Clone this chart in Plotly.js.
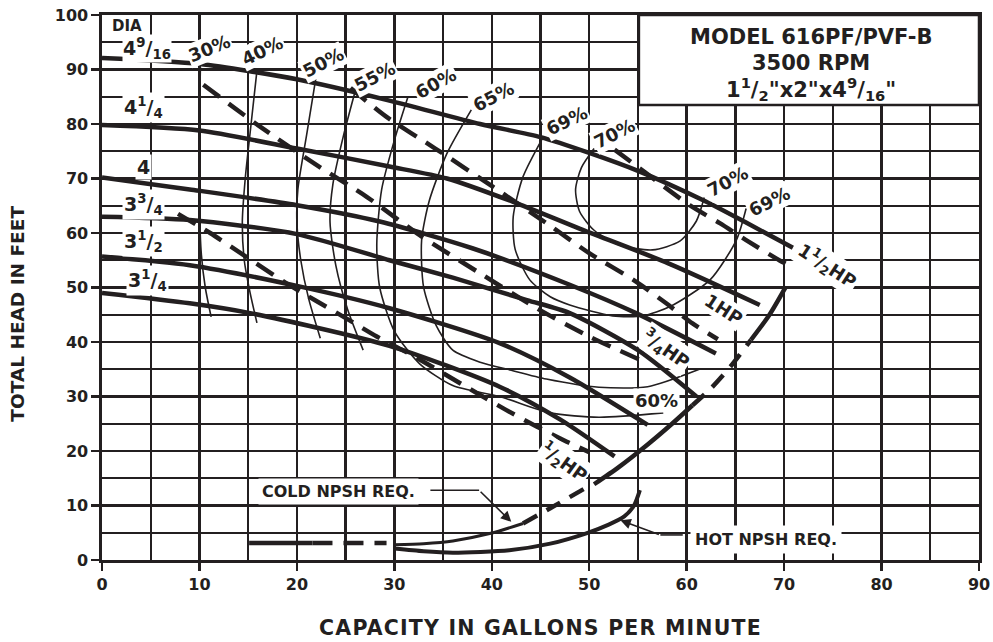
<!DOCTYPE html>
<html><head><meta charset="utf-8">
<script src="https://cdn.plot.ly/plotly-3.0.1.min.js"></script>
<style>html,body{margin:0;padding:0;background:#fff}
.xtitle{letter-spacing:1.2px}</style>
</head><body>
<div id="chart" style="width:993px;height:642px"></div>
<script>
// ---------- DATA ----------
// Axis ticks
const xTickVals = [0,10,20,30,40,50,60,70,80,90];
const yTickVals = [0,10,20,30,40,50,60,70,80,90,100];

// Head-capacity curves by impeller diameter (GPM, ft)
const dia4916Q = [0,10,20,29.5,38.8,45,50,55,61.7,66,70.9];
const dia4916H = [92.1,91,88.2,84.3,80,77.6,74.7,71.4,66,62,57.3];
const dia414Q  = [0,10,20,29.5,35.4,42.2,49,58.3,67.5];
const dia414H  = [79.8,78.8,75.5,72.2,70,65.7,60.8,54.3,46.8];
const dia4Q    = [0,9,20,28.5,38,48,54.8,63];
const dia4H    = [70.2,68,65.1,62.1,57.2,50.5,45.3,37.9];
const dia334Q  = [0,9,20,29.5,36,43.6,48,55,61];
const dia334H  = [63,62.4,59.8,55,51.8,47.7,45.3,38.5,30];
const dia312Q  = [0,9,20,29.5,40.8,48,56];
const dia312H  = [55.7,54.1,50.3,46.2,39.8,33.5,24.8];
const dia314Q  = [0,9,15.2,29.5,40.8,47,52.6];
const dia314H  = [49,47.1,45.3,39.3,31.8,25.8,19];

// Horsepower lines (dashed)
const hpHalfQ = [7.8,11.1,18.9,25.1,28.2,32.1,38.5,41.5,44.6,47.7,50];
const hpHalfH = [63.5,60,50.8,44.3,41,37.3,30.6,27.5,24.5,21.7,19.8];
const hp34Q   = [10.4,16,22,27.2,32.6,38.8,44.6,50,55.5];
const hp34H   = [87.2,79.8,72.5,66.6,59.6,52.6,46.2,41,36.5];
const hp1Q    = [25.5,29.2,34.2,40.1,46.1,50,54.8,57.9,60.6,63.2];
const hp1H    = [86.6,81.3,75.5,68.5,61.2,56.3,51.1,47.1,43.4,40.5];
const hp112Q  = [52.6,55.9,60.3,63.4,66.1,69.5,70.8];
const hp112H  = [75.3,70.9,65.1,61.8,58.7,55,53.8];

// Efficiency contours (thin)
const eff30Q = [10.1,10,10,10.2,10.6,11.2];
const eff30H = [90.5,80,65,56,50,44.6];
const eff40Q = [15.9,15.3,14.7,14.4,14.6,15.2,15.9];
const eff40H = [89.8,80,70,62,55,49,43.5];
const eff50Q = [22,21,20.1,20,20.4,21.2,22.4];
const eff50H = [89,78,68,62,55,48,40.7];
const eff55Q = [26.1,24.8,23.7,23.4,24,25.2,26.8];
const eff55H = [86.8,78,69,62,54,46,38.5];
const eff60Q = [31.4,30,28.7,28.2,28.5,30,32.6,36,40.8,46,51,57.6];
const eff60H = [85,77,68,58,50,42,36,32,30,27,26.2,27];
const eff65Q = [37.9,35.4,33.6,32.8,33,34.3,36,38.8,42,45.6,51,56,61.3];
const eff65H = [82.6,74.6,66,58.7,50.1,43,38.5,36.3,34.8,33.2,31.7,31.8,35];
const eff69Q = [45.3,43.2,42.2,42.4,43.9,46,48,52.4,55.5,58.3,62.4,65.1,66.1];
const eff69H = [77.7,70.3,63,57,51.4,48.3,46.8,44.8,44.8,46.5,51.4,58.7,64.5];
const eff70Q = [50.5,49.2,48.6,49,50.5,53.1,56.5,59.3,61,61.8];
const eff70H = [75.5,72,68,64,60.5,57.8,56.9,58.5,62.2,66.5];

// NPSH required
const coldA_Q = [15.1,21.6];             const coldA_H = [3.1,3.1];
const coldB_Q = [21.6,29.2];             const coldB_H = [3.1,3.1];
const coldC_Q = [30,33,36,39.9,43.2];    const coldC_H = [2.8,3.0,3.5,4.9,6.7];
const coldD_Q = [43.2,46,49.8];          const coldD_H = [6.7,9.5,13.4];
const coldE_Q = [50.5,53,56,58.5,60.6];  const coldE_H = [13.9,17,21.2,25,28.4];
const coldF_Q = [60.6,62.5,64.5,66.6];   const coldF_H = [28.4,31.5,35.5,40.4];
const coldG_Q = [66.6,68.5,70.2];        const coldG_H = [40.4,45,50.2];
const hotQ = [30,33,36,41.8,46,49.7,52,53.6,54.6,55.2];
const hotH = [2.1,1.6,1.35,1.8,3.0,4.9,6.5,8,10,12.8];

// ---------- STYLE ----------
const INK = '#231f20';
const FONT = 'DejaVu Sans, Liberation Sans, Arial, sans-serif';

function line(q, h, width, dash) {
  return {x: q, y: h, type: 'scatter', mode: 'lines', hoverinfo: 'skip', showlegend: false,
          line: {color: INK, width: width, dash: dash || 'solid', shape: 'spline', smoothing: 0.7}};
}
const HEAD_W = 4.5, HP_W = 4.5, EFF_W = 1.6, HPDASH = '20px,11px';

const traces = [
  line(eff30Q, eff30H, EFF_W), line(eff40Q, eff40H, EFF_W), line(eff50Q, eff50H, EFF_W),
  line(eff55Q, eff55H, EFF_W), line(eff60Q, eff60H, EFF_W), line(eff65Q, eff65H, EFF_W),
  line(eff69Q, eff69H, EFF_W), line(eff70Q, eff70H, EFF_W),
  line(dia4916Q, dia4916H, HEAD_W), line(dia414Q, dia414H, HEAD_W), line(dia4Q, dia4H, HEAD_W),
  line(dia334Q, dia334H, HEAD_W), line(dia312Q, dia312H, HEAD_W), line(dia314Q, dia314H, HEAD_W),
  line(hpHalfQ, hpHalfH, HP_W, HPDASH), line(hp34Q, hp34H, HP_W, HPDASH),
  line(hp1Q, hp1H, HP_W, HPDASH), line(hp112Q, hp112H, HP_W, HPDASH),
  line(coldA_Q, coldA_H, 4.5), line(coldB_Q, coldB_H, 4.5, '20px,11px'),
  line(coldC_Q, coldC_H, 3), line(coldD_Q, coldD_H, 4.5, '16px,11px'),
  line(coldE_Q, coldE_H, 4.5), line(coldF_Q, coldF_H, 4.5, '16px,11px'),
  line(coldG_Q, coldG_H, 4.5),
  line(hotQ, hotH, 4)
];

function lab(text, x, y, size, angle, pad) {
  return {x: x, y: y, xref: 'x', yref: 'y', text: '<b>' + text + '</b>', showarrow: false,
          textangle: angle || 0, bgcolor: '#ffffff', borderpad: pad == null ? 1 : pad,
          font: {family: FONT, size: size, color: INK}};
}
const annotations = [
  lab('DIA', 2.6, 97.9, 15, 0, 0),
  lab('4<sup>9</sup>/<sub>16</sub>', 4.6, 93.9, 19, 0, 0),
  lab('4<sup>1</sup>/<sub>4</sub>', 4.3, 83, 19),
  lab('4', 4.3, 72.1, 19),
  lab('3<sup>3</sup>/<sub>4</sub>', 4.3, 65.3, 19),
  lab('3<sup>1</sup>/<sub>2</sub>', 4.3, 58.5, 19),
  lab('3<sup>1</sup>/<sub>4</sub>', 4.7, 51.2, 19),
  lab('30%', 11, 93.8, 18, -22),
  lab('40%', 16.5, 93.4, 18, -26),
  lab('50%', 22.7, 91.2, 18, -27),
  lab('55%', 28, 88.8, 18, -27),
  lab('60%', 34.2, 87.5, 18, -29),
  lab('65%', 40.2, 85, 18, -27),
  lab('69%', 47.7, 80.7, 18, -26),
  lab('70%', 52.6, 78.2, 18, -27),
  lab('70%', 64.2, 69.5, 18, -28),
  lab('69%', 68.5, 65.7, 18, -27),
  lab('1<sup>1</sup>/<sub>2</sub>HP', 74.5, 54, 18, 33),
  lab('1HP', 63.8, 45.9, 18, 33),
  lab('<sup>3</sup>/<sub>4</sub>HP', 57.9, 38.7, 18, 35),
  lab('60%', 56.9, 29.2, 18, 0),
  lab('<sup>1</sup>/<sub>2</sub>HP', 47.4, 18, 18, 36),
  lab('COLD NPSH REQ.', 24.3, 12.5, 16, 0, 3),
  lab('HOT NPSH REQ.', 68.1, 3.85, 16, 0, 4),
  {x: 72.8, y: 96.0, xref: 'x', yref: 'y', showarrow: false, text: '<b>MODEL 616PF/PVF-B</b>',
   font: {family: FONT, size: 21, color: INK}},
  {x: 72.8, y: 91.2, xref: 'x', yref: 'y', showarrow: false, text: '<b>3500 RPM</b>',
   font: {family: FONT, size: 21, color: INK}},
  {x: 72.8, y: 86.4, xref: 'x', yref: 'y', showarrow: false,
   text: '<b>1<sup>1</sup>/<sub>2</sub>"x2"x4<sup>9</sup>/<sub>16</sub>"</b>',
   font: {family: FONT, size: 21, color: INK}},
  // y-axis title (placed as in the reference, below the axis middle)
  {x: -0.0958, y: 0.452, xref: 'paper', yref: 'paper', xanchor: 'center', yanchor: 'middle',
   showarrow: false, textangle: -90,
   text: '<b>TOTAL HEAD IN FEET</b>', font: {family: FONT, size: 18.5, color: INK}},
  // arrowheads of leaders
  {x: 42, y: 7, ax: 38.7, ay: 12.8, xref: 'x', yref: 'y', axref: 'x', ayref: 'y', text: '',
   showarrow: true, arrowhead: 2, arrowsize: 1.3, arrowwidth: 1.6, arrowcolor: INK},
  {x: 53.2, y: 7.3, ax: 57.3, ay: 4.6, xref: 'x', yref: 'y', axref: 'x', ayref: 'y', text: '',
   showarrow: true, arrowhead: 2, arrowsize: 1.3, arrowwidth: 1.6, arrowcolor: INK}
];

const shapes = [
  {type: 'rect', xref: 'x', yref: 'y', x0: 55.1, x1: 90, y0: 83.5, y1: 100,
   fillcolor: '#ffffff', line: {color: INK, width: 2.5}, layer: 'above'},
  {type: 'line', xref: 'x', yref: 'y', x0: 33.7, y0: 12.8, x1: 38.7, y1: 12.8,
   line: {color: INK, width: 1.6}, layer: 'above'},
  {type: 'line', xref: 'x', yref: 'y', x0: 59.6, y0: 4.6, x1: 57.3, y1: 4.6,
   line: {color: INK, width: 1.6}, layer: 'above'}
];

function axis(range, ticks, minorStep, titleText, standoff, titleSize) {
  const ax = {
    range: range, tickvals: ticks, ticktext: ticks.map(String),
    showgrid: true, gridcolor: INK, gridwidth: 2.4,
    minor: {dtick: minorStep, tick0: 0, showgrid: true, gridcolor: INK, gridwidth: 2.4, ticks: ''},
    zeroline: false, showline: true, linecolor: INK, linewidth: 2.6, mirror: true,
    ticks: 'outside', ticklen: 8, tickwidth: 2.4, tickcolor: INK,
    tickfont: {family: FONT, size: 16, color: INK, weight: 'bold'},
    fixedrange: true
  };
  if (titleText) {
    ax.title = {text: '<b>' + titleText + '</b>', standoff: standoff,
                font: {family: FONT, size: titleSize, color: INK}};
  }
  return ax;
}

const layout = {
  width: 993, height: 642,
  margin: {l: 102, r: 14, t: 15, b: 82, autoexpand: false},
  paper_bgcolor: '#ffffff', plot_bgcolor: '#ffffff',
  showlegend: false,
  xaxis: axis([0, 90], xTickVals, 5, 'CAPACITY IN GALLONS PER MINUTE', 28, 20.5),
  yaxis: axis([0, 100], yTickVals, 5, null),
  annotations: annotations,
  shapes: shapes
};

Plotly.newPlot('chart', traces, layout, {displayModeBar: false, staticPlot: true});
</script>
</body></html>
